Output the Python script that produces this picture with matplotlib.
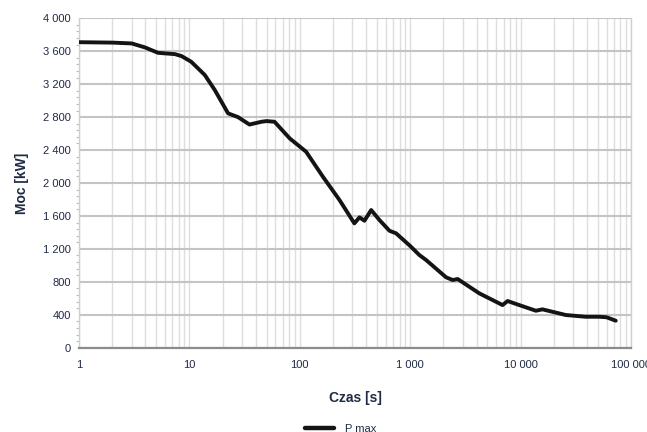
import matplotlib
matplotlib.use("Agg")
import matplotlib.pyplot as plt
from matplotlib.ticker import FixedLocator, MultipleLocator, FuncFormatter, LogLocator, NullFormatter

plt.rcParams['font.family'] = ['Liberation Sans', 'DejaVu Sans']

# Data
time_s = [1, 2, 3.0, 3.95, 5.2, 7.4, 8.5, 10.4, 13.8, 17, 22.4, 27.6, 35, 45, 50, 59,
          81, 114, 162, 229, 312, 347, 385, 443, 527, 649, 745, 1000, 1211, 1393,
          2112, 2423, 2690, 4228, 6860, 7620, 9710, 13740, 15770, 25700, 38900,
          51300, 60000, 72700]
power_kw = [3710, 3705, 3695, 3647, 3581, 3565, 3541, 3472, 3311, 3128, 2846, 2800,
            2710, 2744, 2752, 2744, 2542, 2380, 2076, 1793, 1510, 1583, 1542, 1672,
            1550, 1420, 1389, 1235, 1125, 1065, 855, 822, 834, 660, 518, 567, 518,
            449, 466, 397, 376, 376, 370, 328]
series_name = "P max"
y_ticks = [0, 400, 800, 1200, 1600, 2000, 2400, 2800, 3200, 3600, 4000]
x_ticks = [1, 10, 100, 1000, 10000, 100000]

def fmt_space(v, pos=None):
    s = f"{int(round(v)):,}".replace(",", " ")
    return s

fig = plt.figure(figsize=(6.47, 4.32), dpi=100)
ax = fig.add_axes([0.1221, 0.1951, 0.8532, 0.7625])

ax.plot(time_s, power_kw, color='#141414', lw=2.8, solid_joinstyle='round',
        solid_capstyle='round', label=series_name, zorder=3)

ax.set_xscale('log')
ax.set_xlim(1, 100000)
ax.set_ylim(0, 4000)

ax.xaxis.set_major_locator(FixedLocator(x_ticks))
ax.xaxis.set_minor_locator(LogLocator(base=10, subs=range(2, 10)))
ax.xaxis.set_major_formatter(FuncFormatter(fmt_space))
ax.xaxis.set_minor_formatter(NullFormatter())
ax.yaxis.set_major_locator(FixedLocator(y_ticks))
ax.yaxis.set_minor_locator(MultipleLocator(80))
ax.yaxis.set_major_formatter(FuncFormatter(fmt_space))

ax.grid(True, which='major', axis='y', color='#c4c4c4', lw=1.5, zorder=1)
ax.grid(True, which='both', axis='x', color='#dedede', lw=1.0, zorder=1)

label_color = '#1f2a44'
ax.tick_params(axis='both', which='major', labelsize=8, colors=label_color, length=0, pad=6)
ax.tick_params(axis='x', which='major', pad=9)
ax.tick_params(axis='y', which='minor', length=2.5, color='#c0c0c0', width=0.8)
ax.tick_params(axis='x', which='minor', length=0)

ax.spines['top'].set_visible(False)
ax.spines['left'].set_color('#d0d0d0')
ax.spines['right'].set_color('#d0d0d0')
ax.spines['bottom'].set_color('#8c8c8c')
ax.spines['bottom'].set_linewidth(1.6)
ax.spines['left'].set_linewidth(1.0)
ax.spines['right'].set_linewidth(1.0)

ax.set_ylabel('Moc [kW]', fontsize=10, fontweight='bold', color=label_color, labelpad=10)
ax.set_xlabel('Czas [s]', fontsize=10, fontweight='bold', color=label_color, labelpad=15)

leg = fig.legend(loc='center', bbox_to_anchor=(0.527, 0.008), frameon=False,
                 fontsize=8, handlelength=2.6, handletextpad=1.0)
for t in leg.get_texts():
    t.set_color(label_color)
for h in leg.legend_handles:
    h.set_linewidth(3.2)

fig.savefig('out.png', dpi=100)
